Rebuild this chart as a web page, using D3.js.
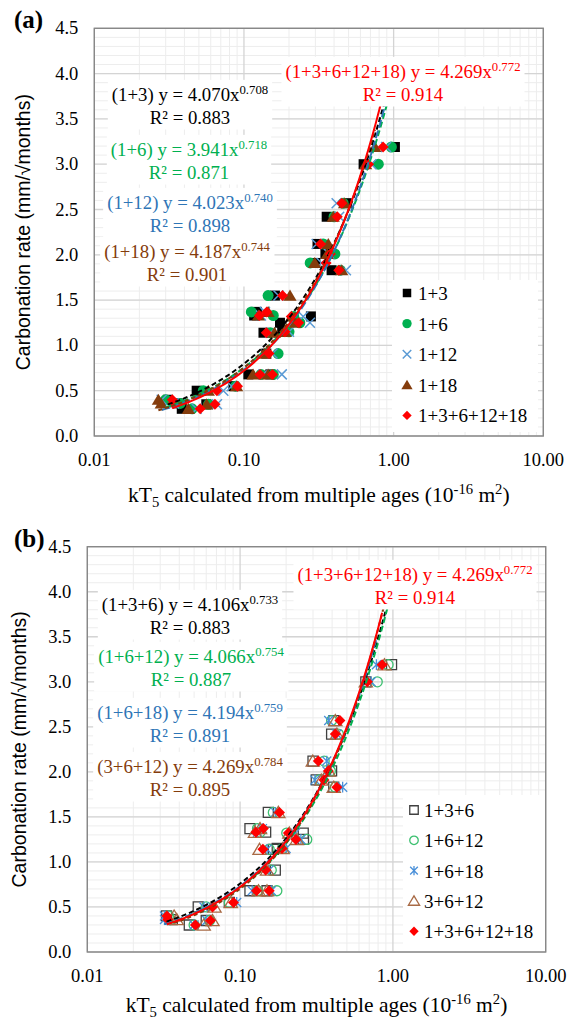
<!DOCTYPE html>
<html>
<head>
<meta charset="utf-8">
<script src="https://cdn.jsdelivr.net/npm/d3@7"></script>
<style>
  body { margin: 0; background: #fff; }
</style>
</head>
<body>
<div id="chart"></div>
<script>
// carbonation rate (mm/sqrt(months)), shared by every series
const rate = [3.19, 3.00, 2.57, 2.42, 2.12, 2.01, 1.91, 1.83, 1.55, 1.37, 1.33, 1.32,
              1.25, 1.14, 1.15, 0.91, 0.68, 0.68, 0.55, 0.50, 0.40, 0.36, 0.30, 0.35];

// kT5 (10^-16 m2), panel (a)
const kt_1_3 = [1.02, 0.63, 0.486, 0.357, 0.31, 0.35, 0.30, 0.385, 0.161, 0.122, 0.117, 0.28,
                0.174, 0.135, 0.18, 0.141, 0.107, 0.15, 0.085, 0.0483, 0.031, 0.036, 0.0384, 0.056];
const kt_1_6 = [0.966, 0.79, 0.46, 0.40, 0.339, 0.405, 0.277, 0.44, 0.145, 0.112, 0.157, 0.215,
                0.236, 0.15, 0.20, 0.169, 0.13, 0.157, 0.088, 0.0535, 0.030, 0.0374, 0.045, 0.058];
const kt_1_12 = [0.89, 0.71, 0.416, 0.433, 0.306, 0.37, 0.33, 0.48, 0.17, 0.138, 0.13, 0.249,
                 0.276, 0.15, 0.20, 0.155, 0.135, 0.179, 0.0828, 0.0728, 0.0282, 0.034, 0.0483, 0.066];
const kt_1_18 = [0.75, 0.65, 0.47, 0.395, 0.366, 0.36, 0.297, 0.45, 0.203, 0.145, 0.125, 0.208,
                 0.22, 0.16, 0.188, 0.138, 0.115, 0.145, 0.0893, 0.0578, 0.0268, 0.028, 0.0425, 0.0563];
const kt_all = [0.85, 0.68, 0.45, 0.42, 0.325, 0.378, 0.354, 0.43, 0.181, 0.142, 0.127, 0.207,
                0.232, 0.141, 0.188, 0.147, 0.128, 0.155, 0.0905, 0.066, 0.0332, 0.0336, 0.051, 0.064];

// kT5, panel (b)
const kt_1_3_6 = [0.98, 0.665, 0.41, 0.397, 0.30, 0.397, 0.315, 0.41, 0.153, 0.116, 0.147, 0.259,
                  0.26, 0.165, 0.175, 0.17, 0.116, 0.15, 0.085, 0.0532, 0.033, 0.036, 0.0465, 0.06];
const kt_1_6_12 = [0.93, 0.79, 0.397, 0.44, 0.355, 0.39, 0.33, 0.42, 0.165, 0.13, 0.135, 0.202,
                   0.273, 0.155, 0.19, 0.16, 0.13, 0.174, 0.085, 0.06, 0.034, 0.035, 0.05, 0.063];
const kt_1_6_18 = [0.78, 0.72, 0.38, 0.43, 0.369, 0.37, 0.309, 0.469, 0.17, 0.14, 0.13, 0.23,
                   0.25, 0.15, 0.20, 0.155, 0.12, 0.16, 0.095, 0.058, 0.032, 0.032, 0.05, 0.0605];
const kt_3_6_12 = [0.88, 0.665, 0.42, 0.43, 0.299, 0.38, 0.34, 0.41, 0.178, 0.135, 0.125, 0.21,
                   0.235, 0.134, 0.19, 0.15, 0.132, 0.15, 0.087, 0.068, 0.037, 0.0385, 0.0578, 0.066];

// power fits y = a x^b
const namesA = ["1+3", "1+6", "1+12", "1+18", "1+3+6+12+18"];
const fitAa = [4.070, 3.941, 4.023, 4.187, 4.269];
const fitAb = [0.708, 0.718, 0.740, 0.744, 0.772];
const r2A = [0.883, 0.871, 0.898, 0.901, 0.914];

const namesB = ["1+3+6", "1+6+12", "1+6+18", "3+6+12", "1+3+6+12+18"];
const fitBa = [4.106, 4.066, 4.194, 4.269, 4.269];
const fitBb = [0.733, 0.754, 0.759, 0.784, 0.772];
const r2B = [0.883, 0.887, 0.891, 0.895, 0.914];

const xTicks = [0.01, 0.1, 1, 10];

const SERIF = "'Liberation Serif', 'Times New Roman', Times, 'DejaVu Serif', serif";
const W = 577, H = 1022;
const svg = d3.select("#chart").append("svg")
    .attr("width", W).attr("height", H)
    .attr("font-family", SERIF)
    .style("font-family", SERIF);

// marker shapes
function markerPath(type, s) {
    if (type == "square") return `M${-s},${-s}H${s}V${s}H${-s}Z`;
    if (type == "circle") return `M${s},0A${s},${s} 0 1,1 ${-s},0A${s},${s} 0 1,1 ${s},0Z`;
    if (type == "diamond") return `M0,${-s}L${s},0L0,${s}L${-s},0Z`;
    if (type == "triangle") return `M0,${-s}L${s * 1.1},${s * 0.85}L${-s * 1.1},${s * 0.85}Z`;
    if (type == "cross") return `M${-s},${-s}L${s},${s}M${-s},${s}L${s},${-s}`;
    if (type == "asterisk") return `M${-s},${-s}L${s},${s}M${-s},${s}L${s},${-s}M0,${-s * 1.2}V${s * 1.2}`;
}

function drawMarker(sel, m) {
    sel.attr("d", markerPath(m.type, m.size))
        .attr("fill", m.fill || "none")
        .attr("stroke", m.stroke || "none")
        .attr("stroke-width", m.sw || 0);
}

// text with sub/superscripts
function rich(textSel, parts, size) {
    let shift = 0;
    parts.forEach((p) => {
        const target = p.sup ? -size * 0.38 : p.sub ? size * 0.22 : 0;
        textSel.append("tspan")
            .attr("dy", target - shift)
            .style("font-size", p.sup || p.sub ? size * 0.68 + "px" : size + "px")
            .text(p.t);
        shift = target;
    });
}

function drawPanel(p) {
    const x = d3.scaleLog().domain([0.01, 10]).range([p.left, p.right]);
    const y = d3.scaleLinear().domain([0, 4.5]).range([p.bottom, p.top]);
    const g = svg.append("g");

    const clipId = "clip" + p.id;
    g.append("clipPath").attr("id", clipId)
        .append("rect")
        .attr("x", p.left).attr("y", p.top)
        .attr("width", p.right - p.left).attr("height", p.bottom - p.top);

    // grid
    const minorX = x.ticks().filter((v) => Math.abs(Math.log10(v) - Math.round(Math.log10(v))) > 1e-6);
    g.append("g").selectAll("line").data(minorX).join("line")
        .attr("x1", (d) => x(d)).attr("x2", (d) => x(d))
        .attr("y1", p.top).attr("y2", p.bottom)
        .attr("stroke", "#ededed").attr("stroke-width", 1);
    g.append("g").selectAll("line").data(y.ticks(45)).join("line")
        .attr("x1", p.left).attr("x2", p.right)
        .attr("y1", (d) => y(d)).attr("y2", (d) => y(d))
        .attr("stroke", "#ededed").attr("stroke-width", 1);
    g.append("g").selectAll("line").data(xTicks).join("line")
        .attr("x1", (d) => x(d)).attr("x2", (d) => x(d))
        .attr("y1", p.top).attr("y2", p.bottom)
        .attr("stroke", "#d4d4d4").attr("stroke-width", 1.3);
    g.append("g").selectAll("line").data(y.ticks(9)).join("line")
        .attr("x1", p.left).attr("x2", p.right)
        .attr("y1", (d) => y(d)).attr("y2", (d) => y(d))
        .attr("stroke", "#d4d4d4").attr("stroke-width", 1.3);

    // tick labels
    g.append("g").selectAll("text").data(y.ticks(9)).join("text")
        .attr("x", p.left - 16).attr("y", (d) => y(d) + 6)
        .attr("text-anchor", "end")
        .style("font-size", "18.5px")
        .text(d3.format(".1f"));
    g.append("g").selectAll("text").data(xTicks).join("text")
        .attr("x", (d) => x(d)).attr("y", p.bottom + 30)
        .attr("text-anchor", "middle")
        .style("font-size", "18.5px")
        .text(d3.format(".2f"));

    // markers
    p.series.forEach((s) => {
        g.append("g").selectAll("path").data(s.kt).join("path")
            .attr("transform", (d, i) => `translate(${x(d)},${y(rate[i])})`)
            .call(drawMarker, s.marker);
    });

    // trend lines
    const line = d3.line().x((d) => x(d[0])).y((d) => y(d[1]));
    p.series.forEach((s, k) => {
        const [lo, hi] = d3.extent(s.kt);
        const pts = d3.range(0, 61).map((j) => {
            const xv = Math.pow(10, Math.log10(lo) + (Math.log10(hi) - Math.log10(lo)) * j / 60);
            return [xv, p.fa[k] * Math.pow(xv, p.fb[k])];
        });
        g.append("path")
            .attr("clip-path", `url(#${clipId})`)
            .attr("d", line(pts))
            .attr("fill", "none")
            .attr("stroke", s.line)
            .attr("stroke-width", 2)
            .attr("stroke-dasharray", s.dash || null);
    });

    // border
    g.append("rect")
        .attr("x", p.left).attr("y", p.top)
        .attr("width", p.right - p.left).attr("height", p.bottom - p.top)
        .attr("fill", "none").attr("stroke", "#888").attr("stroke-width", 1.4);

    // fit labels
    p.series.forEach((s, k) => {
        const lab = p.labels[k];
        const lg = g.append("g");
        const box = lg.append("rect").attr("fill", "#fff");
        const t1 = lg.append("text")
            .attr("x", lab.x).attr("y", lab.y)
            .attr("text-anchor", "middle")
            .attr("fill", s.text);
        rich(t1, [
            { t: `(${p.names[k]}) y = ${p.fa[k].toFixed(3)}x` },
            { t: p.fb[k].toFixed(3), sup: true }
        ], 18.8);
        lg.append("text")
            .attr("x", lab.x).attr("y", lab.y + 22.5)
            .attr("text-anchor", "middle")
            .attr("fill", s.text)
            .style("font-size", "18.8px")
            .text(`R² = ${p.r2[k].toFixed(3)}`);
        const bb = lg.node().getBBox();
        box.attr("x", bb.x - 4).attr("y", bb.y - 3)
            .attr("width", bb.width + 8).attr("height", bb.height + 5);
    });

    // legend
    const lgd = g.append("g");
    lgd.append("rect")
        .attr("x", p.legend.x).attr("y", p.legend.y)
        .attr("width", p.legend.w).attr("height", p.legend.h)
        .attr("fill", "#fff");
    p.series.forEach((s, k) => {
        const yy = p.legend.y + p.legend.row0 + k * p.legend.step;
        lgd.append("path")
            .attr("transform", `translate(${p.legend.mx},${yy})`)
            .call(drawMarker, Object.assign({}, s.marker, { size: s.marker.size * 0.85 }));
        lgd.append("text")
            .attr("x", p.legend.tx).attr("y", yy + 7)
            .style("font-size", "19px")
            .text(p.names[k]);
    });

    // axis titles
    const xt = g.append("text")
        .attr("x", (p.left + p.right) / 2).attr("y", p.bottom + p.xtDy)
        .attr("text-anchor", "middle");
    rich(xt, [
        { t: "kT" }, { t: "5", sub: true },
        { t: " calculated from multiple ages (10" }, { t: "-16", sup: true },
        { t: " m" }, { t: "2", sup: true }, { t: ")" }
    ], 21.5);

    g.append("text")
        .attr("transform", `translate(${p.ytx},${(p.top + p.bottom) / 2}) rotate(-90)`)
        .attr("text-anchor", "middle")
        .attr("font-family", "'Liberation Sans', Arial, sans-serif")
        .style("font-family", "'Liberation Sans', Arial, sans-serif")
        .style("font-size", "19.5px")
        .text("Carbonation rate (mm/√months)");

    g.append("text")
        .attr("x", 14).attr("y", p.top + 0)
        .style("font-size", "25px").style("font-weight", "bold")
        .text(p.tag);
}

drawPanel({
    id: "a", tag: "(a)",
    left: 94.3, right: 543.3, top: 28.3, bottom: 436, ytx: 30, xtDy: 66,
    names: namesA, fa: fitAa, fb: fitAb, r2: r2A,
    series: [
        { kt: kt_1_3, marker: { type: "square", size: 5, fill: "#000" }, line: "#000", dash: "5,3", text: "#000" },
        { kt: kt_1_6, marker: { type: "circle", size: 5.5, fill: "#00b050" }, line: "#00b050", dash: "6,3", text: "#00b050" },
        { kt: kt_1_12, marker: { type: "cross", size: 5, stroke: "#5b9bd5", sw: 1.5 }, line: "#2e75b6", dash: "8,3", text: "#2e75b6" },
        { kt: kt_1_18, marker: { type: "triangle", size: 6, fill: "#843c0c" }, line: "#843c0c", dash: "4,3", text: "#843c0c" },
        { kt: kt_all, marker: { type: "diamond", size: 5.5, fill: "#ff0000" }, line: "#ff0000", text: "#ff0000" }
    ],
    labels: [
        { x: 190, y: 101 }, { x: 189, y: 156 }, { x: 190, y: 209 }, { x: 187, y: 258 }, { x: 403, y: 78 }
    ],
    legend: { x: 392, y: 280, w: 146, h: 152, row0: 13, step: 30.6, mx: 407, tx: 418 }
});

drawPanel({
    id: "b", tag: "(b)",
    left: 87.3, right: 545.7, top: 546.7, bottom: 952, ytx: 26, xtDy: 60,
    names: namesB, fa: fitBa, fb: fitBb, r2: r2B,
    series: [
        { kt: kt_1_3_6, marker: { type: "square", size: 5, stroke: "#404040", sw: 1.3 }, line: "#000", dash: "5,3", text: "#000" },
        { kt: kt_1_6_12, marker: { type: "circle", size: 5, stroke: "#3cc070", sw: 1.3 }, line: "#00b050", dash: "6,3", text: "#00b050" },
        { kt: kt_1_6_18, marker: { type: "asterisk", size: 4.5, stroke: "#4a90d9", sw: 1.3 }, line: "#2e75b6", dash: "8,3", text: "#2e75b6" },
        { kt: kt_3_6_12, marker: { type: "triangle", size: 6, stroke: "#a86a45", sw: 1.3 }, line: "#843c0c", dash: "4,3", text: "#843c0c" },
        { kt: kt_all, marker: { type: "diamond", size: 5.5, fill: "#ff0000" }, line: "#ff0000", text: "#ff0000" }
    ],
    labels: [
        { x: 190, y: 611 }, { x: 191, y: 663 }, { x: 190, y: 719 }, { x: 190, y: 773 }, { x: 415, y: 581 }
    ],
    legend: { x: 403, y: 795, w: 142, h: 156, row0: 15, step: 30.3, mx: 414, tx: 424 }
});
</script>
</body>
</html>
